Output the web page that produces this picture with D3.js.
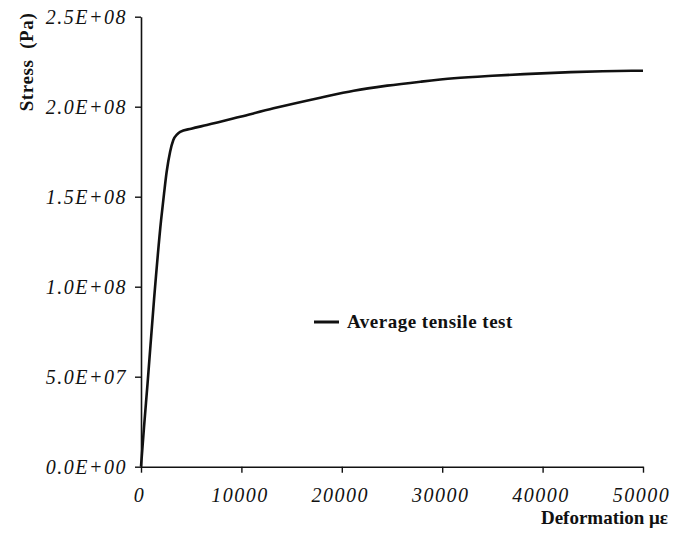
<!DOCTYPE html>
<meta charset=utf-8>
<style>
body { margin: 0; background: white }
.tick text { font: italic 20px "Liberation Serif", "Times New Roman", serif; letter-spacing: 1.5px; fill: #111 }
.lbl { font: bold 19px "Liberation Serif", "Times New Roman", serif; fill: #111 }
</style>
<script src="https://cdn.jsdelivr.net/npm/d3@7"></script>
<body>
<svg width=690 height=536 id=chart></svg>
</body>
<script>
// strain (µε) and stress (Pa)
const strain = [0, 300, 650, 1300, 2000, 2300, 2560, 2900, 3220, 3600, 3900, 5000, 6560, 9880, 13200, 17860, 21190, 24520, 27840, 31170, 35000, 38160, 42810, 46000, 50000];
const stress = [0, 0.22e8, 0.46e8, 0.93e8, 1.37e8, 1.52e8, 1.64e8, 1.75e8, 1.815e8, 1.846e8, 1.86e8, 1.878e8, 1.898e8, 1.944e8, 1.991e8, 2.05e8, 2.089e8, 2.117e8, 2.139e8, 2.158e8, 2.172e8, 2.181e8, 2.192e8, 2.197e8, 2.2e8];
const xTicks = [0, 10000, 20000, 30000, 40000, 50000];
const yTicks = [0, 5e7, 1e8, 1.5e8, 2e8, 2.5e8];
const seriesName = "Average tensile test";

const margin = {top: 16.7, right: 47, bottom: 69.3, left: 141};
const svg = d3.select(chart);
const W = +svg.attr("width"), H = +svg.attr("height");

const x = d3.scaleLinear().domain([0, 50000]).range([margin.left, W - margin.right]);
const y = d3.scaleLinear().domain([0, 2.5e8]).range([H - margin.bottom, margin.top]);

const fmtY = v => v.toExponential(1).toUpperCase().replace(/E([+-])(\d)$/, "E$10$2");

// Y axis
svg.append("g")
	.attr("transform", `translate(${x(0)},0)`)
	.call(d3.axisLeft(y).tickValues(yTicks).tickFormat(fmtY).tickSize(6).tickSizeOuter(0).tickPadding(8))
	.call(g => g.select(".domain").attr("stroke", "#111").attr("stroke-width", 1.6))
	.call(g => g.selectAll(".tick line").attr("stroke", "#111").attr("stroke-width", 1.4))
	.call(g => g.selectAll(".tick text").attr("dy", "0.34em"));

// X axis
svg.append("g")
	.attr("transform", `translate(0,${y(0)})`)
	.call(d3.axisBottom(x).tickValues(xTicks).tickFormat(d3.format("d")).tickSize(6).tickSizeOuter(0).tickPadding(15))
	.call(g => g.select(".domain").attr("stroke", "#111").attr("stroke-width", 1.6))
	.call(g => g.selectAll(".tick line").attr("stroke", "#111").attr("stroke-width", 1.4))
	.call(g => g.selectAll(".tick text").attr("dx", "-2"));

// axis titles
svg.append("text").attr("class", "lbl")
	.attr("transform", "translate(33,62) rotate(-90)")
	.attr("text-anchor", "middle")
	.style("letter-spacing", "0.6px")
	.text("Stress\u00a0 (Pa)");
svg.append("text").attr("class", "lbl")
	.attr("x", 668).attr("y", 524)
	.attr("text-anchor", "end")
	.text("Deformation με");

// curve
const pts = strain.map((s, i) => [s, stress[i]]);
svg.append("path")
	.datum(pts)
	.attr("fill", "none")
	.attr("stroke", "#111")
	.attr("stroke-width", 2.6)
	.attr("stroke-linejoin", "round")
	.attr("d", d3.line().x(d => x(d[0])).y(d => y(d[1])).curve(d3.curveMonotoneX));

// legend
const lg = svg.append("g").attr("transform", "translate(314,322)");
lg.append("line").attr("x1", 0).attr("x2", 25).attr("stroke", "#111").attr("stroke-width", 3);
lg.append("text").attr("class", "lbl")
	.attr("x", 33).attr("y", 5.5)
	.style("letter-spacing", "0.5px")
	.text(seriesName);
</script>
